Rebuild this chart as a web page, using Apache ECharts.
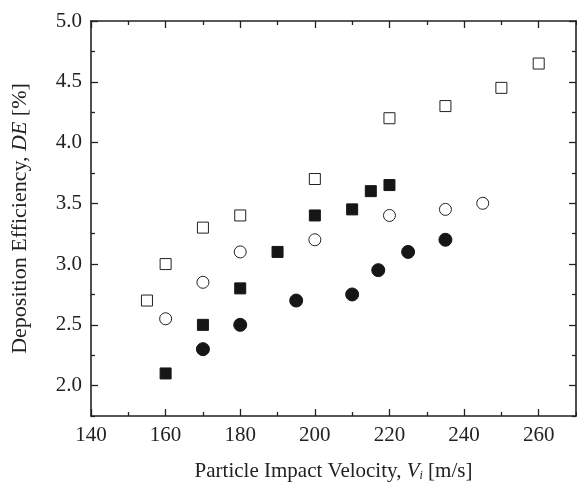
<!DOCTYPE html>
<html><head><meta charset="utf-8">
<script src="https://cdn.jsdelivr.net/npm/echarts@6/dist/echarts.min.js"></script>
<style>html,body{margin:0;padding:0;background:#fff}#c{width:577px;height:487px}</style>
</head><body><div id="c"></div>
<script>
// Open squares
const openSqX = [155, 160, 170, 180, 200, 220, 235, 250, 260];
const openSqY = [2.7, 3.0, 3.3, 3.4, 3.7, 4.2, 4.3, 4.45, 4.65];
// Open circles
const openCirX = [160, 170, 180, 200, 220, 235, 245];
const openCirY = [2.55, 2.85, 3.1, 3.2, 3.4, 3.45, 3.5];
// Filled squares
const fillSqX = [160, 170, 180, 190, 200, 210, 215, 220];
const fillSqY = [2.1, 2.5, 2.8, 3.1, 3.4, 3.45, 3.6, 3.65];
// Filled circles
const fillCirX = [170, 180, 195, 210, 217, 225, 235];
const fillCirY = [2.3, 2.5, 2.7, 2.75, 2.95, 3.1, 3.2];

const xMajorValues = [140,160,180,200,220,240,260];
const xMinorValues = [150,170,190,210,230,250,270];
const yMajorValues = [2.0,2.5,3.0,3.5,4.0,4.5,5.0];
const yMinorValues = [1.75,2.25,2.75,3.25,3.75,4.25,4.75];

const pair = (xs, ys) => xs.map((x, i) => [x, ys[i]]);
const FONT = 'Liberation Serif';
const AX = '#222';
const TXT = '#222';

function xAx(pos, labels, ticks, len, line) {
  return {
    type: 'value', position: pos, min: 140, max: 270,
    axisLine: {show: line, onZero: false, lineStyle: {color: AX, width: 1.6}},
    axisTick: {show: true, inside: true, length: len, customValues: ticks, lineStyle: {color: AX, width: 1.3}},
    axisLabel: {show: labels, customValues: xMajorValues, fontFamily: FONT, fontSize: 21, color: TXT, margin: 9},
    splitLine: {show: false}
  };
}
function yAx(pos, labels, ticks, len, line) {
  return {
    type: 'value', position: pos, min: 1.75, max: 5.0,
    axisLine: {show: line, onZero: false, lineStyle: {color: AX, width: 1.6}},
    axisTick: {show: true, inside: true, length: len, customValues: ticks, lineStyle: {color: AX, width: 1.3}},
    axisLabel: {show: labels, customValues: yMajorValues, fontFamily: FONT, fontSize: 21, color: TXT, margin: 9,
      formatter: v => Number(v).toFixed(1)},
    splitLine: {show: false}
  };
}
const xa0 = xAx('bottom', true, xMajorValues, 7, true);
xa0.name = '{a|Particle Impact Velocity, }{i|V}{s|i}{a| [m/s]}';
xa0.nameLocation = 'middle';
xa0.nameGap = 44;
xa0.nameTextStyle = {fontFamily: FONT, fontSize: 21, color: TXT, rich: {
  a: {fontFamily: FONT, fontSize: 21, color: TXT},
  i: {fontFamily: FONT, fontSize: 21, fontStyle: 'italic', color: TXT},
  s: {fontFamily: FONT, fontSize: 12, fontStyle: 'italic', color: TXT, padding: [10, 0, 0, 0]}
}};
const ya0 = yAx('left', true, yMajorValues, 7, true);
ya0.name = '{a|Deposition Efficiency, }{i|DE}{a| [%]}';
ya0.nameLocation = 'middle';
ya0.nameGap = 60;
ya0.nameTextStyle = {fontFamily: FONT, fontSize: 22, color: TXT, rich: {
  a: {fontFamily: FONT, fontSize: 22, color: TXT},
  i: {fontFamily: FONT, fontSize: 22, fontStyle: 'italic', color: TXT}
}};

const chart = echarts.init(document.getElementById('c'), null, {renderer: 'canvas'});
const base = {type: 'scatter', xAxisIndex: 0, yAxisIndex: 0, animation: false};
const dark = '#161616';
chart.setOption({
  backgroundColor: '#fff',
  grid: {left: 91, top: 21, right: 1, bottom: 67},
  xAxis: [xa0, xAx('top', false, xMajorValues, 7, true),
          xAx('bottom', false, xMinorValues, 4, false), xAx('top', false, xMinorValues, 4, false)],
  yAxis: [ya0, yAx('right', false, yMajorValues, 7, true),
          yAx('left', false, yMinorValues, 4, false), yAx('right', false, yMinorValues, 4, false)],
  series: [
    Object.assign({}, base, {data: pair(openSqX, openSqY), symbol: 'rect', symbolSize: 11,
      itemStyle: {color: '#fff', borderColor: '#222', borderWidth: 1, opacity: 1}}),
    Object.assign({}, base, {data: pair(openCirX, openCirY), symbol: 'circle', symbolSize: 12,
      itemStyle: {color: '#fff', borderColor: '#222', borderWidth: 1, opacity: 1}}),
    Object.assign({}, base, {data: pair(fillSqX, fillSqY), symbol: 'rect', symbolSize: 11,
      itemStyle: {color: dark, borderColor: dark, borderWidth: 1, opacity: 1}}),
    Object.assign({}, base, {data: pair(fillCirX, fillCirY), symbol: 'circle', symbolSize: 13,
      itemStyle: {color: dark, borderColor: dark, borderWidth: 1, opacity: 1}})
  ]
});
</script></body></html>
